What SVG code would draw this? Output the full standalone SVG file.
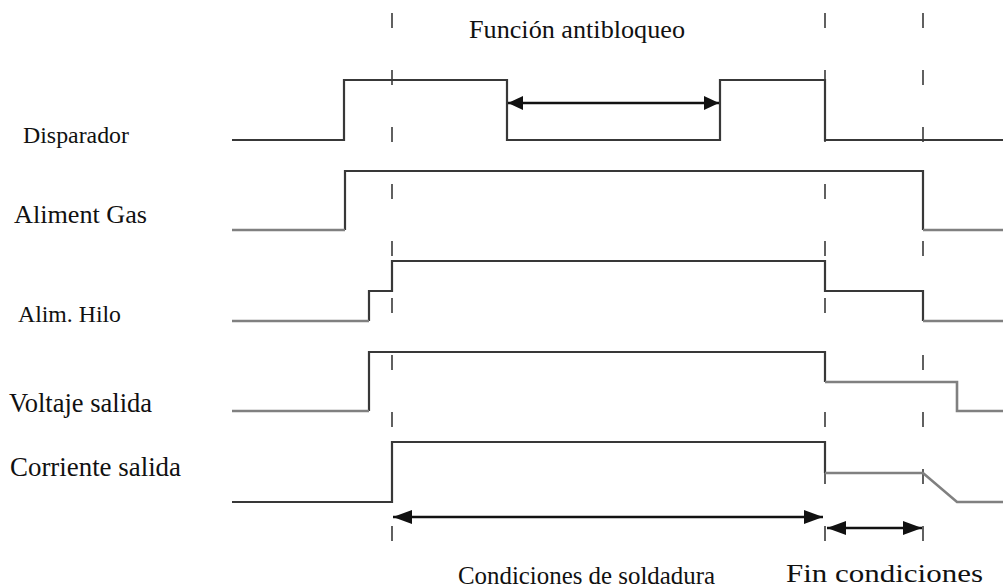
<svg xmlns="http://www.w3.org/2000/svg" width="1003" height="588" viewBox="0 0 1003 588">
<style>
.lbl{font-family:"Liberation Serif","Times New Roman",serif;fill:#111;}
.wave{fill:none;stroke:#383838;stroke-width:2.2;stroke-linejoin:miter;}
.low{fill:none;stroke:#808080;stroke-width:2.6;}
.dash{stroke:#3a3a3a;stroke-width:1.6;stroke-dasharray:15 42;}
.arr{stroke:#111;stroke-width:2.4;fill:none;}
</style>
<defs>
<marker id="ahS" markerUnits="userSpaceOnUse" markerWidth="16" markerHeight="16" viewBox="0 0 16 16" refX="15" refY="8" orient="auto-start-reverse"><path d="M0,1 L15,8 L0,15 Z" fill="#111"/></marker>
<marker id="ahL" markerUnits="userSpaceOnUse" markerWidth="20" markerHeight="16" viewBox="0 0 20 16" refX="19" refY="8" orient="auto-start-reverse"><path d="M0,1 L19,8 L0,15 Z" fill="#111"/></marker>
</defs>
<g id="guides">
<line class="dash" x1="392" y1="13" x2="392" y2="545"/>
<line class="dash" x1="825" y1="13" x2="825" y2="545"/>
<line class="dash" x1="923" y1="13" x2="923" y2="545"/>
</g>
<g id="disparador">
<text class="lbl" x="23" y="143" font-size="23" textLength="106" lengthAdjust="spacingAndGlyphs">Disparador</text>
<path class="wave" d="M232,140 H344 V80 H507 V140 H720 V80 H825 V140 H1003"/>
</g>
<g id="gas">
<text class="lbl" x="14" y="223" font-size="26" textLength="133" lengthAdjust="spacingAndGlyphs">Aliment Gas</text>
<path class="wave" d="M345,230 V171 H923 V230"/>
<path class="low" d="M232,230 H345 M923,230 H1003"/>
</g>
<g id="hilo">
<text class="lbl" x="18" y="322" font-size="23" textLength="103" lengthAdjust="spacingAndGlyphs">Alim. Hilo</text>
<path class="wave" d="M369,321 V291 H392 V261 H825 V291 H923 V321"/>
<path class="low" d="M232,321 H369 M923,321 H1003"/>
</g>
<g id="voltaje">
<text class="lbl" x="9" y="412" font-size="27" textLength="143" lengthAdjust="spacingAndGlyphs">Voltaje salida</text>
<path class="wave" d="M369,411 V352 H825 V382"/>
<path class="low" d="M825,382 H957 V411 H1003 M232,411 H369"/>
</g>
<g id="corriente">
<text class="lbl" x="10" y="476" font-size="27" textLength="171" lengthAdjust="spacingAndGlyphs">Corriente salida</text>
<path class="wave" d="M232,502 H392 V442 H825 V473"/>
<path class="low" d="M825,473 H923 L957,502 H1003"/>
</g>
<g id="connectors">
<line class="arr" x1="508" y1="103" x2="719" y2="103" marker-start="url(#ahS)" marker-end="url(#ahS)"/>
<line class="arr" x1="393" y1="517" x2="823" y2="517" marker-start="url(#ahL)" marker-end="url(#ahL)"/>
<line class="arr" x1="827" y1="528" x2="922" y2="528" marker-start="url(#ahL)" marker-end="url(#ahL)"/>
</g>
<g id="titles">
<text class="lbl" x="469" y="38" font-size="25" textLength="216" lengthAdjust="spacingAndGlyphs">Función antibloqueo</text>
<text class="lbl" x="458" y="584" font-size="26" textLength="257" lengthAdjust="spacingAndGlyphs">Condiciones de soldadura</text>
<text class="lbl" x="786" y="582" font-size="26" textLength="197" lengthAdjust="spacingAndGlyphs">Fin condiciones</text>
</g>
</svg>
